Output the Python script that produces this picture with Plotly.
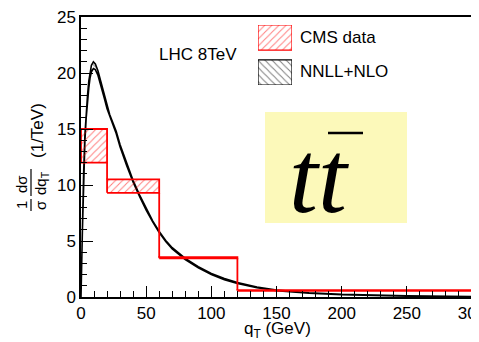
import plotly.graph_objects as go

# ---------------- data ----------------
bin_edges = [0, 20, 60, 120, 300]
cms_lo = [12.0, 9.3, 3.45, 0.55]
cms_hi = [15.0, 10.5, 3.55, 0.62]

qt = [0, 1, 2, 3, 4, 5, 6, 7, 8, 9.5, 11, 13, 15, 18, 20, 22, 25, 27, 30, 35, 40, 45,
      50, 55, 60, 65, 70, 80, 90, 100, 110, 120, 135, 150, 175, 200, 250, 300]
nnll_hi = [0, 6.0, 11.0, 14.5, 16.6, 18.0, 19.3, 20.2, 20.7, 21.0, 20.8, 20.2, 19.3, 17.9,
           17.0, 16.3, 15.4, 14.8, 13.6, 11.9, 10.4, 9.1, 7.9, 6.8, 5.85, 5.05, 4.4,
           3.45, 2.7, 2.1, 1.65, 1.3, 0.9, 0.62, 0.38, 0.24, 0.1, 0.05]
nnll_lo = [0, 5.6, 10.4, 13.9, 16.0, 17.4, 18.7, 19.6, 20.1, 20.4, 20.3, 19.8, 19.0, 17.7,
           16.8, 16.1, 15.2, 14.6, 13.4, 11.75, 10.25, 8.95, 7.75, 6.7, 5.75, 4.95, 4.3,
           3.35, 2.6, 2.0, 1.55, 1.2, 0.82, 0.56, 0.33, 0.2, 0.08, 0.04]

x_ticks = [0, 50, 100, 150, 200, 250, 300]
y_ticks = [0, 5, 10, 15, 20, 25]

legend_labels = ["CMS data", "NNLL+NLO"]

RED = "#ff0000"
BLACK = "#000000"

fig = go.Figure()

# NNLL+NLO band (hatched)
fig.add_trace(go.Scatter(
    x=qt + qt[::-1], y=nnll_hi + nnll_lo[::-1], mode="lines",
    fill="toself", fillcolor="rgba(0,0,0,0)",
    fillpattern=dict(shape="\\", fgcolor=BLACK, bgcolor="rgba(0,0,0,0)", size=5, solidity=0.2),
    line=dict(color=BLACK, width=1.6), showlegend=False, hoverinfo="skip"))

# CMS data boxes (hatched) + connecting step lines
for i in range(len(cms_lo)):
    x0, x1 = bin_edges[i], bin_edges[i + 1]
    fig.add_trace(go.Scatter(
        x=[x0, x1, x1, x0, x0], y=[cms_lo[i], cms_lo[i], cms_hi[i], cms_hi[i], cms_lo[i]],
        mode="lines", fill="toself", fillcolor="rgba(0,0,0,0)",
        fillpattern=dict(shape="/", fgcolor=RED, bgcolor="rgba(0,0,0,0)", size=5, solidity=0.2),
        line=dict(color=RED, width=1.8), showlegend=False, hoverinfo="skip"))
for i in range(len(cms_lo) - 1):
    xb = bin_edges[i + 1]
    fig.add_trace(go.Scatter(
        x=[xb, xb], y=[cms_lo[i], cms_hi[i + 1]], mode="lines",
        line=dict(color=RED, width=1.8), showlegend=False, hoverinfo="skip"))

# custom legend icons on an auxiliary axis pair
leg_specs = [(RED, "/", 1), (BLACK, "\\", 0)]
for k, (col, shp, row) in enumerate(leg_specs):
    fig.add_trace(go.Scatter(
        x=[0, 1, 1, 0, 0], y=[row, row, row + 0.72, row + 0.72, row],
        xaxis="x2", yaxis="y2", mode="lines", fill="toself", fillcolor="rgba(0,0,0,0)",
        fillpattern=dict(shape=shp, fgcolor=col, bgcolor="rgba(0,0,0,0)", size=5, solidity=0.2),
        line=dict(color=col, width=1.2), showlegend=False, hoverinfo="skip"))

# page body has an 8px margin: the figure starts at (8, 8) in the window
OFF = 8
W, H = 479 - OFF, 342 - OFF
L, T = 81 - OFF, 17 - OFF
R = W - (472 - OFF)
B = H - (297 - OFF)
pw, ph = W - L - R, H - T - B

def px(xp):
    return (xp - OFF - L) / pw

def py(yp):
    return (H - B - (yp - OFF)) / ph

fig.update_layout(
    width=W, height=H,
    margin=dict(l=L, r=R, t=T, b=B, autoexpand=False),
    paper_bgcolor="white", plot_bgcolor="white",
    showlegend=False,
    font=dict(family="Liberation Sans, Arial, sans-serif", size=17, color=BLACK),
    xaxis=dict(range=[0, 300], tickvals=x_ticks, ticks="inside", ticklen=11, tickwidth=1,
               tickcolor=BLACK, showline=True, linecolor=BLACK, linewidth=1.5, mirror=True,
               showgrid=False, zeroline=False, tickfont=dict(size=17), automargin=False,
               ticklabeloverflow="allow",
               minor=dict(dtick=10, ticks="inside", ticklen=6, tickcolor=BLACK, tickwidth=1, showgrid=False)),
    yaxis=dict(range=[0, 25], tickvals=y_ticks, ticks="inside", ticklen=12, tickwidth=1,
               tickcolor=BLACK, showline=True, linecolor=BLACK, linewidth=1.5, mirror=True,
               showgrid=False, zeroline=False, tickfont=dict(size=17), automargin=False,
               ticklabeloverflow="allow",
               minor=dict(dtick=1, ticks="inside", ticklen=6, tickcolor=BLACK, tickwidth=1, showgrid=False)),
    xaxis2=dict(domain=[px(258), px(292)], range=[0, 1], visible=False, anchor="y2", fixedrange=True),
    yaxis2=dict(domain=[py(85), py(25)], range=[0, 1.72], visible=False, anchor="x2", fixedrange=True),
)

# yellow box
fig.add_shape(type="rect", xref="paper", yref="paper", x0=px(265), x1=px(407), y0=py(223), y1=py(112),
              fillcolor="#fcf9ba", line=dict(width=0), layer="below")
# t tbar
fig.add_annotation(xref="paper", yref="paper", x=px(319), y=py(176), text="<i>tt</i>", showarrow=False,
                   font=dict(family="Liberation Serif, serif", size=104, color=BLACK),
                   xanchor="center", yanchor="middle")
fig.add_shape(type="line", xref="paper", yref="paper", x0=px(328), x1=px(363), y0=py(133), y1=py(133),
              line=dict(color=BLACK, width=2.5))

# legend texts
fig.add_annotation(xref="paper", yref="paper", x=px(298), y=py(38), text=legend_labels[0], showarrow=False,
                   xanchor="left", yanchor="middle", font=dict(size=17))
fig.add_annotation(xref="paper", yref="paper", x=px(298), y=py(72), text=legend_labels[1], showarrow=False,
                   xanchor="left", yanchor="middle", font=dict(size=17))
# LHC 8TeV
fig.add_annotation(xref="paper", yref="paper", x=px(198), y=py(55), text="LHC 8TeV", showarrow=False,
                   xanchor="center", yanchor="middle", font=dict(size=17))
# x axis title
fig.add_annotation(xref="paper", yref="paper", x=px(277), y=py(330),
                   text="q<sub>T</sub> (GeV)", showarrow=False,
                   xanchor="center", yanchor="middle", font=dict(size=17))

# y axis title: (1/σ)(dσ/dq_T) (1/TeV), rotated, stacked fractions
def rot(text, xp, yp, size=15):
    fig.add_annotation(xref="paper", yref="paper", x=px(xp), y=py(yp), text=text, showarrow=False,
                       textangle=-90, xanchor="center", yanchor="middle", font=dict(size=size))

rot("1", 21, 205)
rot("σ", 40, 205)
rot("dσ", 21, 184)
rot("dq<sub>T</sub>", 41, 183)
rot("(1/TeV)", 37, 131, size=17)
fig.add_shape(type="line", xref="paper", yref="paper", x0=px(31), x1=px(31), y0=py(211), y1=py(199),
              line=dict(color=BLACK, width=1.2))
fig.add_shape(type="line", xref="paper", yref="paper", x0=px(31), x1=px(31), y0=py(196), y1=py(169),
              line=dict(color=BLACK, width=1.2))

fig.write_html("out.html")
